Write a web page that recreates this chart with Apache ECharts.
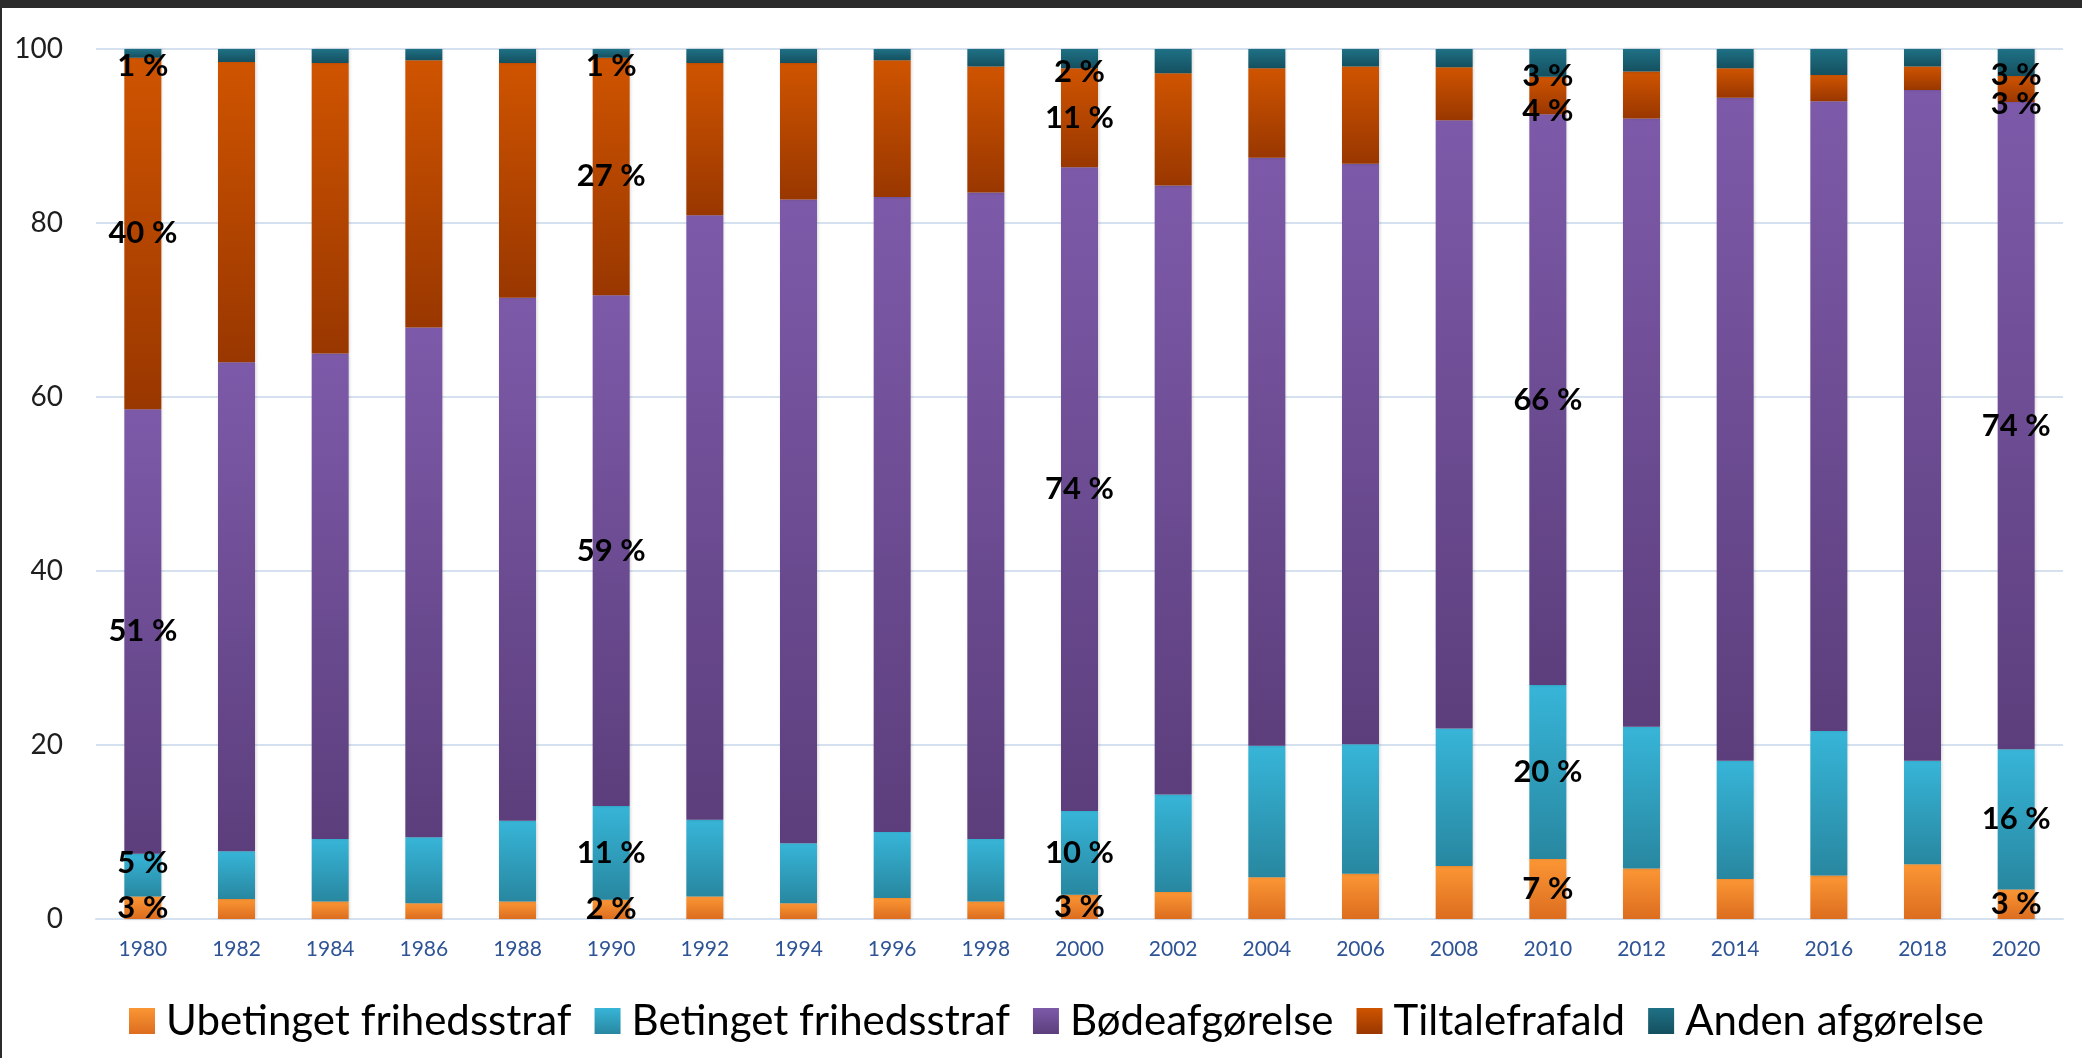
<!DOCTYPE html>
<html>
<head>
<meta charset="utf-8">
<script src="https://cdn.jsdelivr.net/npm/echarts@6/dist/echarts.min.js"></script>
<style>
  html, body { margin: 0; padding: 0; background: #ffffff; }
  #topband { position: absolute; left: 0; top: 0; width: 2082px; height: 8px; background: #2b2b2b; z-index: 2; }
  #leftline { position: absolute; left: 0; top: 0; width: 2px; height: 1058px; background: #2b2b2b; z-index: 2; }
  #chart { position: absolute; left: 0; top: 0; width: 2082px; height: 1058px; }
</style>
</head>
<body>
<div id="topband"></div>
<div id="leftline"></div>
<div id="chart"></div>
<script>
const years = ['1980','1982','1984','1986','1988','1990','1992','1994','1996','1998','2000','2002','2004','2006','2008','2010','2012','2014','2016','2018','2020'];
const labelYears = ['1980','1990','2000','2010','2020'];
const seriesNames = ['Ubetinget frihedsstraf','Betinget frihedsstraf','Bødeafgørelse','Tiltalefrafald','Anden afgørelse'];
const ubetinget = [2.6, 2.3, 2.0, 1.8, 2.0, 2.2, 2.6, 1.8, 2.4, 2.0, 2.8, 3.1, 4.8, 5.2, 6.1, 6.9, 5.8, 4.6, 5.0, 6.3, 3.4];
const betinget  = [4.9, 5.5, 7.2, 7.6, 9.3, 10.8, 8.8, 6.9, 7.6, 7.2, 9.6, 11.2, 15.1, 14.9, 15.8, 20.0, 16.3, 13.6, 16.6, 11.9, 16.1];
const boede     = [51.1, 56.2, 55.8, 58.6, 60.1, 58.7, 69.5, 74.0, 73.0, 74.3, 74.0, 70.0, 67.6, 66.7, 69.9, 65.6, 69.9, 76.2, 72.4, 77.1, 74.4];
const tiltale   = [40.4, 34.5, 33.4, 30.7, 27.0, 27.3, 17.5, 15.7, 15.7, 14.5, 11.4, 12.9, 10.3, 11.2, 6.1, 4.3, 5.4, 3.4, 3.0, 2.7, 3.0];
const anden     = [1.0, 1.5, 1.6, 1.3, 1.6, 1.0, 1.6, 1.6, 1.3, 2.0, 2.2, 2.8, 2.2, 2.0, 2.1, 3.2, 2.6, 2.2, 3.0, 2.0, 3.1];
const yTicks = { min: 0, max: 100, interval: 20 };

const gradients = [
  ['#fb9634', '#dc6d1f'],
  ['#37b5d8', '#2887a0'],
  ['#7d5aa9', '#5c3e7c'],
  ['#cf5400', '#993700'],
  ['#1f7186', '#14505f']
];
const values = [ubetinget, betinget, boede, tiltale, anden];

function grad(c) {
  return new echarts.graphic.LinearGradient(0, 0, 0, 1, [
    { offset: 0, color: c[0] }, { offset: 1, color: c[1] }
  ]);
}

// label nudges (pixels) mimicking the overlap avoidance of the original
function labelShift(seriesIndex, v) {
  if (seriesIndex === 4) return 13;            // top segment: keep label inside plot
  if (seriesIndex === 3 && v < 6) return 15;   // thin segment under the top one
  if (seriesIndex === 1 && v < 6) return -12;  // thin segment above the bottom one
  return 0;
}

const chart = echarts.init(document.getElementById('chart'), null, { renderer: 'canvas' });
const series = seriesNames.map((name, i) => ({
  name: name,
  type: 'bar',
  stack: 'total',
  barWidth: 37,
  data: values[i].map(v => ({ value: v, label: { offset: [0, labelShift(i, v)] } })),
  itemStyle: {
    color: grad(gradients[i]),
    shadowBlur: 3,
    shadowColor: 'rgba(0,0,0,0.18)',
    shadowOffsetX: 1
  },
  label: {
    show: true,
    position: 'inside',
    color: '#000000',
    fontFamily: 'Lato',
    fontWeight: 'bold',
    fontSize: 31,
    formatter: function (p) {
      return labelYears.indexOf(p.name) >= 0 ? Math.round(p.value) + ' %' : '';
    }
  }
}));

chart.setOption({
  backgroundColor: '#ffffff',
  animation: false,
  grid: { left: 96, right: 19, top: 49, bottom: 139, containLabel: false },
  legend: {
    data: seriesNames,
    left: 124,
    top: 995,
    icon: 'rect',
    itemWidth: 26,
    itemHeight: 26,
    itemGap: 23,
    textStyle: { fontFamily: 'Lato', fontSize: 42, color: '#000000', padding: [0, 0, 0, 6] }
  },
  xAxis: {
    type: 'category',
    data: years,
    axisTick: { show: false },
    axisLine: { show: true, lineStyle: { color: '#d6e1f0', width: 2 } },
    axisLabel: { fontFamily: 'Lato', fontSize: 21, color: '#2f5496', margin: 20 }
  },
  yAxis: {
    type: 'value',
    min: yTicks.min,
    max: yTicks.max,
    interval: yTicks.interval,
    axisLine: { show: false },
    axisTick: { show: false },
    splitLine: { lineStyle: { color: '#d6e1f0', width: 2 } },
    axisLabel: { fontFamily: 'Lato', fontSize: 28, color: '#1e1e1e', margin: 33 }
  },
  series: series
});
</script>
</body>
</html>
